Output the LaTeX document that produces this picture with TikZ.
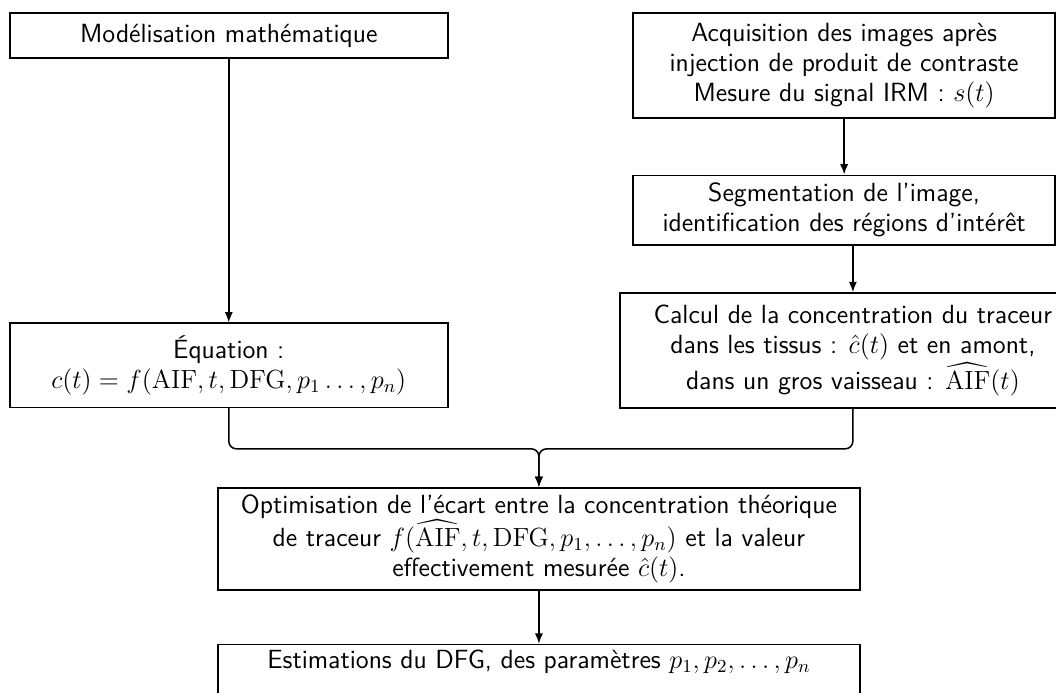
\RequirePackage{fix-cm}
\documentclass[tikz,border=0pt]{standalone}
\usepackage{amsmath}
\usetikzlibrary{positioning,arrows.meta}

\begin{document}
\begin{tikzpicture}[
		boite/.style={draw, thick, align=center, font=\sffamily\fontsize{13.7}{15.6}\selectfont, inner sep=3pt},
		fleche/.style={thick,-{Latex[length=1.9mm,width=1.5mm]}}]
			\useasboundingbox (0,0) rectangle (19.34,-12.69);
			
			\node[boite, minimum width=8.02cm, minimum height=0.82cm] (model) at (4.19,-0.65) {Modélisation mathématique};
			\node[boite, minimum width=8.02cm, minimum height=1.54cm] (eq) at (4.19,-6.69) {Équation :\\ $c(t) = f(\mathrm{AIF}, t, \mathrm{DFG}, p_1 \ldots, p_n)$};
			
			\node[boite, minimum width=7.73cm, minimum height=1.92cm] (acq) at (15.46,-1.20) {Acquisition des images après\\ injection de produit de contraste\\ Mesure du signal IRM : $s(t)$};
			\node[boite, minimum width=7.73cm, minimum height=1.28cm] (seg) at (15.46,-3.85) {Segmentation de l'image,\\ identification des régions d'intérêt};
			\node[boite, minimum width=8.53cm, minimum height=2.11cm] (calc) at (15.62,-6.42) {Calcul de la concentration du traceur\\ dans les tissus : $\hat{c}(t)$ et en amont,\\ dans un gros vaisseau : $\widehat{\mathrm{AIF}}(t)$};
			
			\node[boite, minimum width=11.76cm, minimum height=1.87cm] (opt) at (9.87,-9.87) {Optimisation de l'écart entre la concentration théorique\\ de traceur $f(\widehat{\mathrm{AIF}}, t, \mathrm{DFG}, p_1, \ldots, p_n)$ et la valeur\\ effectivement mesurée $\hat{c}(t)$.};
			\node[boite, minimum width=11.76cm, text depth=0.6cm, anchor=north] (est) at (9.87,-11.79) {Estimations du DFG, des paramètres $p_1, p_2, \ldots, p_n$};
			
			\coordinate (jonction) at (9.87,-8.22);
			
			\draw[fleche] (model) -- (eq);
			\draw[fleche] (acq) -- (seg);
			\draw[fleche] (seg.south -| calc.north) -- (calc.north);
			\draw[fleche, rounded corners] (eq.south) |- (jonction) -- (opt.north);
			\draw[fleche, rounded corners] (calc.south) |- (jonction) -- (opt.north);
			\draw[fleche] (opt) -- (est);
		\end{tikzpicture}
\end{document}
